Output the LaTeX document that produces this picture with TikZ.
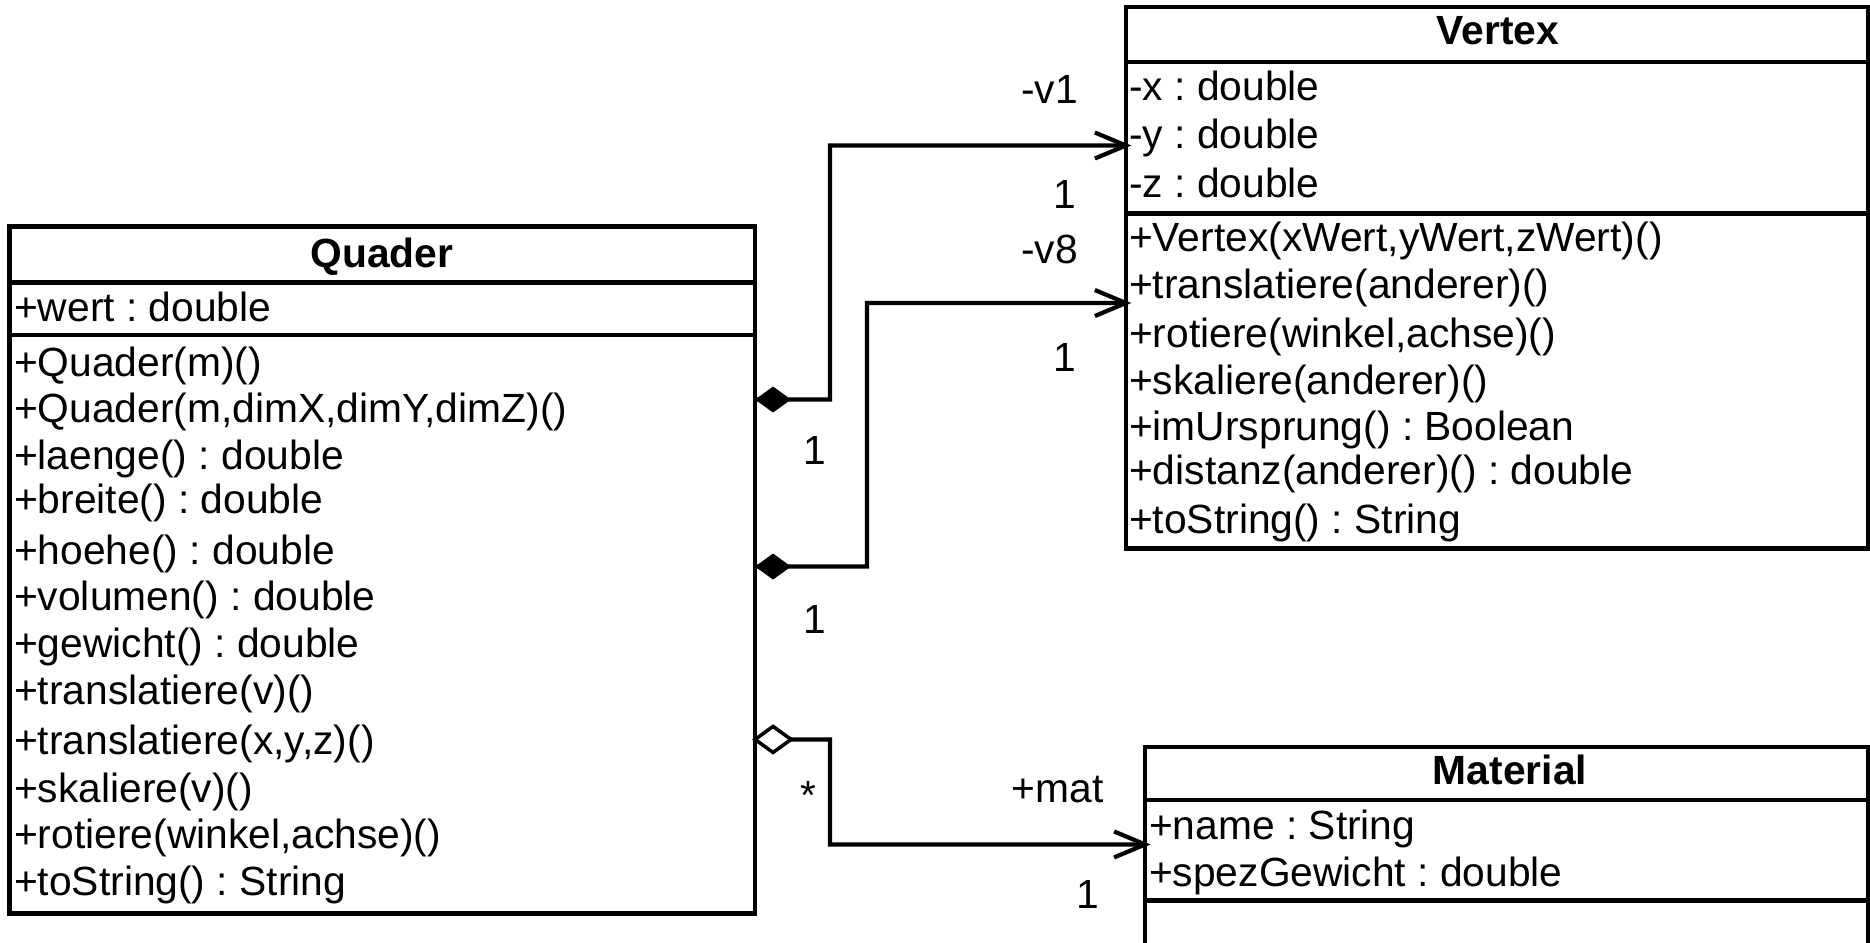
\documentclass[tikz,border=0pt]{standalone}
\usepackage{fontspec}
\setmainfont{Liberation Sans}
\frenchspacing
\begin{document}
\begin{tikzpicture}[scale=0.1, line width=1.2pt, font=\fontsize{11.6}{13.9}\selectfont]
\tikzstyle{every node}+=[inner sep=0pt, text height=0.75em, text depth=0.25em]
\tikzstyle{mult}=[yshift=-0.5mm]
\tikzstyle{member}=[anchor=west, yshift=-0.5mm]
\tikzstyle{classname}=[font=\fontsize{11.6}{13.9}\selectfont\bfseries, yshift=-0.5mm]
\useasboundingbox (0,0) rectangle (187,-94.2);
% Quader
\draw [black] (0.95,-22.66) rectangle (75.5,-91.35);
\draw [black] (0.95,-28.26) -- (75.5,-28.26);
\draw [black] (0.95,-33.51) -- (75.5,-33.51);
\draw (38.2,-25.4) node [classname] (quader) {Quader};
\draw (1.2,-30.77) node [member] (qwert) {+wert : double};
\draw (1.2,-36.26) node [member] (qm1) {+Quader(m)()};
\draw (1.2,-40.9) node [member] (qm2) {+Quader(m,dimX,dimY,dimZ)()};
\draw (1.2,-45.56) node [member] (qm3) {+laenge() : double};
\draw (1.2,-49.97) node [member] (qm4) {+breite() : double};
\draw (1.2,-55.1) node [member] (qm5) {+hoehe() : double};
\draw (1.2,-59.63) node [member] (qm6) {+volumen() : double};
\draw (1.2,-64.4) node [member] (qm7) {+gewicht() : double};
\draw (1.2,-69.05) node [member] (qm8) {+translatiere(v)()};
\draw (1.2,-74.06) node [member] (qm9) {+translatiere(x,y,z)()};
\draw (1.2,-78.83) node [member] (qm10) {+skaliere(v)()};
\draw (1.2,-83.48) node [member] (qm11) {+rotiere(winkel,achse)()};
\draw (1.2,-88.13) node [member] (qm12) {+toString() : String};
% Vertex
\draw [black] (112.58,-0.72) rectangle (186.76,-54.86);
\draw [black] (112.58,-6.2) -- (186.76,-6.2);
\draw [black] (112.58,-21.35) -- (186.76,-21.35);
\draw (149.8,-3.1) node [classname] (vertex) {Vertex};
\draw (112.7,-8.7) node [member] (vx) {-x : double};
\draw (112.7,-13.48) node [member] (vy) {-y : double};
\draw (112.7,-18.37) node [member] (vz) {-z : double};
\draw (112.7,-23.73) node [member] (vm1) {+Vertex(xWert,yWert,zWert)()};
\draw (112.7,-28.5) node [member] (vm2) {+translatiere(anderer)()};
\draw (112.7,-33.4) node [member] (vm3) {+rotiere(winkel,achse)()};
\draw (112.7,-38.04) node [member] (vm4) {+skaliere(anderer)()};
\draw (112.7,-42.7) node [member] (vm5) {+imUrsprung() : Boolean};
\draw (112.7,-47.1) node [member] (vm6) {+distanz(anderer)() : double};
\draw (112.7,-52.0) node [member] (vm7) {+toString() : String};
% Material
\draw [black] (114.5,-74.66) rectangle (186.76,-97);
\draw [black] (114.5,-80.02) -- (186.76,-80.02);
\draw [black] (114.5,-90.04) -- (186.76,-90.04);
\draw (151,-77.04) node [classname] (material) {Material};
\draw (114.7,-82.53) node [member] (mname) {+name : String};
\draw (114.7,-87.3) node [member] (mspez) {+spezGewicht : double};
% ends of the associations
\coordinate (qa) at (75.5,-39.95);
\coordinate (va) at (112.58,-14.55);
\coordinate (qb) at (75.5,-56.65);
\coordinate (vb) at (112.58,-30.3);
\coordinate (qc) at (75.5,-73.94);
\coordinate (mc) at (114.5,-84.44);
% v1
\draw [black] (qa) -- (83,-39.95) |- (va);
\fill [black] (qa) -- ++(1.8,1.3) -- ++(1.8,-1.3) -- ++(-1.8,-1.3) -- cycle;
\draw [black] (va) ++(-3.1,1.3) -- (va) -- ++(-3.1,-1.3);
\draw (81.46,-45.08) node [mult] (qa1) {1};
\draw (104.95,-8.94) node [mult] (rolev1) {-v1};
\draw (106.5,-19.44) node [mult] (va1) {1};
% v8
\draw [black] (qb) -- (86.7,-56.65) |- (vb);
\fill [black] (qb) -- ++(1.8,1.3) -- ++(1.8,-1.3) -- ++(-1.8,-1.3) -- cycle;
\draw [black] (vb) ++(-3.1,1.3) -- (vb) -- ++(-3.1,-1.3);
\draw (81.46,-62.0) node [mult] (qb1) {1};
\draw (104.95,-24.93) node [mult] (rolev8) {-v8};
\draw (106.5,-35.78) node [mult] (vb1) {1};
% mat
\draw [black] (qc) -- (83,-73.94) |- (mc);
\filldraw [black, fill=white, line width=1pt] (qc) -- ++(1.8,1.3) -- ++(1.8,-1.3) -- ++(-1.8,-1.3) -- cycle;
\draw [black] (mc) ++(-3.1,1.3) -- (mc) -- ++(-3.1,-1.3);
\draw (80.86,-79.6) node [mult] (qcstar) {*};
\draw (105.78,-78.83) node [mult] (rolemat) {+mat};
\draw (108.76,-89.45) node [mult] (mc1) {1};
\end{tikzpicture}
\end{document}
